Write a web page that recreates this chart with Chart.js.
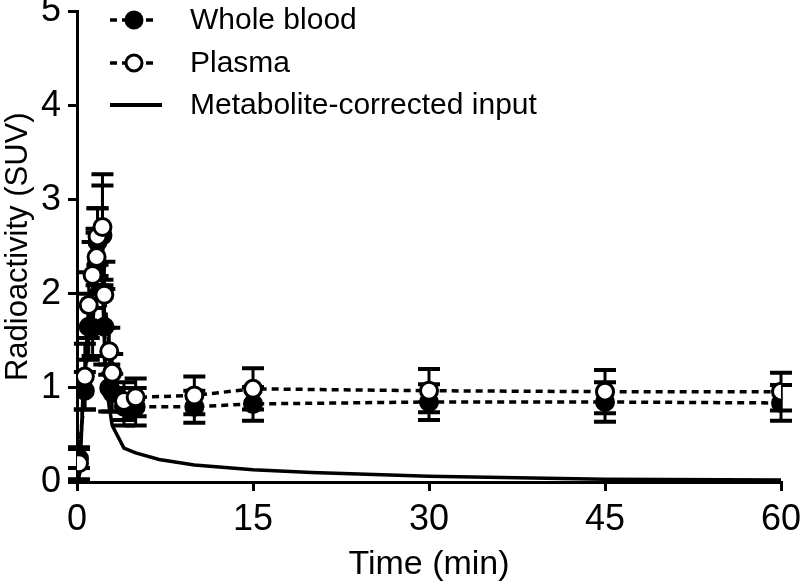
<!DOCTYPE html>
<html><head><meta charset="utf-8">
<script src="https://cdn.jsdelivr.net/npm/chart.js@4/dist/chart.umd.min.js"></script>
<style>html,body{margin:0;padding:0;background:#fff}#wrap{width:800px;height:588px}</style>
</head><body><div id="wrap"><canvas id="c" width="800" height="588"></canvas></div>
<script>
const times = [0.17, 0.67, 1.0, 1.33, 1.67, 1.75, 2.17, 2.33, 2.75, 3.0, 4.0, 5.0, 10, 15, 30, 45, 60];
const bloodMean = [0.25, 0.97, 1.65, 1.64, 2.3, 2.55, 2.62, 1.65, 1.0, 0.95, 0.8, 0.8, 0.8, 0.83, 0.85, 0.85, 0.84];
const bloodSD   = [0.1, 0.2, 0.35, 0.3, 0.35, 0.36, 0.53, 0.4, 0.25, 0.2, 0.2, 0.2, 0.17, 0.18, 0.19, 0.21, 0.19];
const plasmaMean = [0.2, 1.12, 1.88, 2.2, 2.39, 2.61, 2.71, 1.99, 1.39, 1.16, 0.86, 0.9, 0.92, 0.99, 0.97, 0.96, 0.96];
const plasmaSD   = [0.17, 0.35, 0.35, 0.35, 0.3, 0.3, 0.56, 0.35, 0.25, 0.2, 0.2, 0.2, 0.2, 0.22, 0.23, 0.23, 0.2];
const inputTimes = [0, 0.25, 0.5, 1, 1.5, 2, 2.5, 3, 4, 5, 7, 10, 15, 20, 30, 45, 60];
const inputValues = [0, 0.1, 0.9, 1.6, 2.2, 2.6, 1.0, 0.6, 0.36, 0.31, 0.24, 0.18, 0.13, 0.1, 0.06, 0.03, 0.02];
const xTicks = [0, 15, 30, 45, 60];
const yTicks = [0, 1, 2, 3, 4, 5];
const legendLabels = ['Whole blood', 'Plasma', 'Metabolite-corrected input'];

const FONT = "'Liberation Sans', Arial, sans-serif";
const pts = (xs, ys) => xs.map((x, i) => ({x: x, y: ys[i]}));

const errorBars = {
  id: 'errorBars',
  beforeDatasetsDraw(chart) {
    const ctx = chart.ctx, xs = chart.scales.x, ys = chart.scales.y;
    const sets = [[bloodMean, bloodSD], [plasmaMean, plasmaSD]];
    ctx.save();
    ctx.strokeStyle = '#000';
    sets.forEach(([m, s]) => {
      times.forEach((t, i) => {
        const px = xs.getPixelForValue(t);
        const top = ys.getPixelForValue(m[i] + s[i]);
        const bot = ys.getPixelForValue(Math.max(0, m[i] - s[i]));
        ctx.lineWidth = 3;
        ctx.beginPath(); ctx.moveTo(px, top); ctx.lineTo(px, bot); ctx.stroke();
        ctx.lineWidth = 4;
        ctx.beginPath(); ctx.moveTo(px - 11, top); ctx.lineTo(px + 11, top);
        ctx.moveTo(px - 11, bot); ctx.lineTo(px + 11, bot); ctx.stroke();
      });
    });
    ctx.restore();
  }
};

const customLegend = {
  id: 'customLegend',
  afterDraw(chart) {
    const ctx = chart.ctx;
    ctx.save();
    ctx.fillStyle = '#000'; ctx.strokeStyle = '#000';
    ctx.font = "30px " + FONT;
    ctx.textBaseline = 'middle';
    const rows = [20, 63, 105];
    [0, 1].forEach(r => {
      const y = rows[r];
      ctx.lineWidth = 3.5;
      ctx.setLineDash([7, 5]);
      ctx.beginPath(); ctx.moveTo(110, y); ctx.lineTo(158, y); ctx.stroke();
      ctx.setLineDash([]);
      ctx.beginPath(); ctx.arc(134, y, 8, 0, Math.PI * 2);
      ctx.fillStyle = r === 0 ? '#000' : '#fff';
      ctx.fill(); ctx.lineWidth = 3; ctx.stroke();
      ctx.fillStyle = '#000';
      ctx.fillText(legendLabels[r], 190, y + 1);
    });
    ctx.lineWidth = 4;
    ctx.beginPath(); ctx.moveTo(110, rows[2]); ctx.lineTo(162, rows[2]); ctx.stroke();
    ctx.fillText(legendLabels[2], 190, rows[2] + 1);
    ctx.restore();
  }
};

new Chart(document.getElementById('c'), {
  type: 'line',
  data: {
    datasets: [
      { label: legendLabels[2], order: 3, data: pts(inputTimes, inputValues), borderColor: '#000', borderWidth: 3.5, pointRadius: 0, tension: 0, fill: false },
      { label: legendLabels[0], order: 2, data: pts(times, bloodMean), borderColor: '#000', borderWidth: 3.5, borderDash: [7, 5], pointRadius: 8.5, pointBackgroundColor: '#000', pointBorderColor: '#000', pointBorderWidth: 3, tension: 0, fill: false },
      { label: legendLabels[1], order: 1, data: pts(times, plasmaMean), borderColor: '#000', borderWidth: 3.5, borderDash: [7, 5], pointRadius: 8.5, pointBackgroundColor: '#fff', pointBorderColor: '#000', pointBorderWidth: 3, tension: 0, fill: false }
    ]
  },
  options: {
    responsive: false,
    animation: false,
    devicePixelRatio: 1,
    layout: { padding: { top: 11, right: 19, left: 0, bottom: 0 } },
    plugins: { legend: { display: false }, tooltip: { enabled: false } },
    scales: {
      x: {
        type: 'linear', min: 0, max: 60,
        afterBuildTicks: s => { s.ticks = xTicks.map(v => ({value: v})); },
        afterFit: s => { s.height = 106; s.paddingLeft = 0; s.paddingRight = 0; },
        grid: { display: true, drawOnChartArea: false, drawTicks: true, tickLength: 9, lineWidth: 3, color: '#000' },
        border: { display: true, width: 3, color: '#000' },
        ticks: { color: '#000', font: { family: FONT, size: 36 }, padding: 7, maxRotation: 0 },
        title: { display: true, text: 'Time (min)', color: '#000', font: { family: FONT, size: 34 }, padding: { top: 0, bottom: 3 } }
      },
      y: {
        type: 'linear', min: 0, max: 5,
        afterBuildTicks: s => { s.ticks = yTicks.map(v => ({value: v})); },
        afterFit: s => { s.width = 77; s.paddingTop = 0; s.paddingBottom = 0; },
        grid: { display: true, drawOnChartArea: false, drawTicks: true, tickLength: 9, lineWidth: 3, color: '#000' },
        border: { display: true, width: 3, color: '#000' },
        ticks: { color: '#000', font: { family: FONT, size: 36 }, padding: 7 },
        title: { display: true, text: 'Radioactivity (SUV)', color: '#000', font: { family: FONT, size: 31 }, padding: { top: 0, bottom: 2 } }
      }
    }
  },
  plugins: [errorBars, customLegend]
});
</script></body></html>
